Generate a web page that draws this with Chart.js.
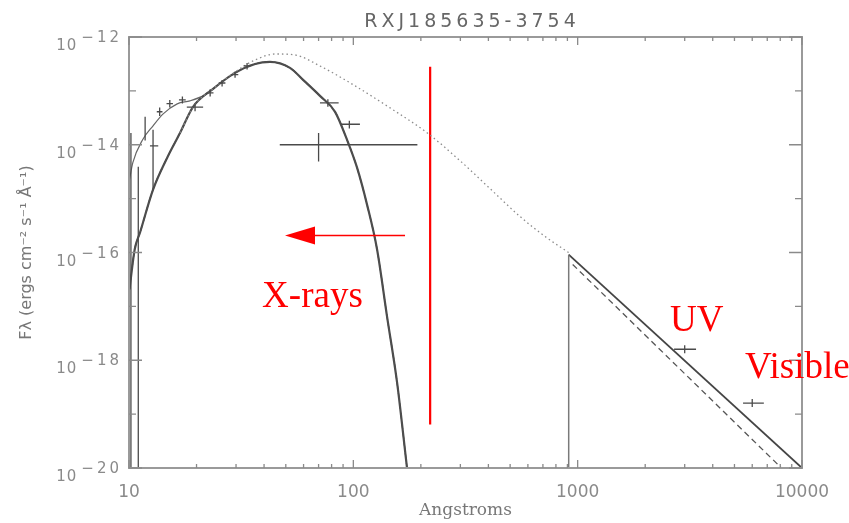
<!DOCTYPE html>
<html>
<head>
<meta charset="utf-8">
<script src="https://cdn.jsdelivr.net/npm/chart.js@4.4.1/dist/chart.umd.min.js"></script>
<style>
  html, body { margin: 0; padding: 0; background: #fff; }
</style>
</head>
<body>
<canvas id="sed" width="849" height="523"></canvas>
<script>
// axes
const xMajorTicks = [10, 100, 1000, 10000];
const xMinorSteps = [2, 3, 4, 5, 6, 7, 8, 9];
const yDecades = [-20, -19, -18, -17, -16, -15, -14, -13, -12];
const yLabelled = [-20, -18, -16, -14, -12];

// unabsorbed blackbody (dotted)
const bbFreeX = [16.9, 19.3, 23.7, 29.7, 36.5, 44.8, 55, 71, 96.7, 145.7, 213, 299, 407, 554, 716, 925];
const bbFreeY = [1.67e-14, 5.06e-14, 1.09e-13, 2.25e-13, 3.75e-13, 4.84e-13, 4.64e-13, 2.9e-13, 1.41e-13, 4.84e-14, 1.67e-14, 5.06e-15, 1.53e-15, 4.64e-16, 1.98e-16, 9.57e-17];

// absorbed blackbody fit (solid + dashed)
const bbFitX = [10.05, 10.6, 11.2, 12.8, 14.8, 16.9, 19.3, 23.7, 29.7, 36.5, 42.5, 52.2, 59.7, 71, 82.9, 93.7, 103.9, 115.1, 127.6, 141.3, 156.6, 173.5];
const bbFitY = [2.07e-17, 1.14e-16, 2.35e-16, 1.47e-15, 5.75e-15, 1.67e-14, 5.06e-14, 1.09e-13, 2.16e-13, 3.16e-13, 3.44e-13, 2.67e-13, 1.6e-13, 8.07e-14, 4.08e-14, 1.24e-14, 3.75e-15, 7.74e-16, 1.14e-16, 6.53e-18, 3.92e-19, 1e-20];

// soft end model (thin)
const softX = [10.05, 10.4, 11.5, 12.8, 14.2, 16.4, 18.7, 21.8, 23.7];
const softY = [2.25e-15, 4.64e-15, 1.24e-14, 2.25e-14, 3.75e-14, 5.74e-14, 6.53e-14, 8.43e-14, 1.09e-13];

// UV / optical tail
const edgeX = [912, 912];
const edgeY = [1e-20, 9.1e-17];
const uvSolidX = [912, 10000];
const uvSolidY = [9.1e-17, 1e-20];
const uvDashX = [950, 8100];
const uvDashY = [6e-17, 1e-20];

// X-ray data points with errors
const xrayX   = [10.2, 11.0, 11.8, 12.8, 13.7, 15.2, 17.3, 19.7, 23.0, 26.0, 29.7, 33.6, 70, 77, 96];
const xrayY   = [4.6e-15, 9.5e-16, 2.6e-14, 9.5e-15, 4.1e-14, 5.8e-14, 6.8e-14, 5.0e-14, 9.2e-14, 1.4e-13, 2.0e-13, 2.9e-13, 1.0e-14, 6.0e-14, 2.4e-14];
const xrayXlo = [10.2, 11.0, 11.8, 12.4, 13.3, 14.7, 16.7, 18.1, 22.2, 25.1, 28.7, 32.4, 47, 71, 88];
const xrayXhi = [10.2, 11.0, 11.8, 13.5, 14.1, 15.7, 17.9, 21.4, 23.8, 26.9, 30.7, 34.8, 193, 86, 107];
const xrayYlo = [1e-20, 1e-20, 1.2e-14, 1.5e-15, 3.4e-14, 4.9e-14, 5.8e-14, 4.2e-14, 7.9e-14, 1.2e-13, 1.75e-13, 2.5e-13, 4.9e-15, 5.1e-14, 2.0e-14];
const xrayYhi = [1.66e-14, 3.9e-15, 3.3e-14, 1.9e-14, 4.9e-14, 6.8e-14, 7.9e-14, 5.9e-14, 1.07e-13, 1.6e-13, 2.3e-13, 3.3e-13, 1.66e-14, 7.0e-14, 2.8e-14];

// UV / optical photometry
const optX   = [3000, 6000];
const optY   = [1.6e-18, 1.6e-19];
const optXlo = [2690, 5460];
const optXhi = [3370, 6760];
const optYlo = [1.35e-18, 1.35e-19];
const optYhi = [1.9e-18, 1.9e-19];

// red annotations
const cutX = [220, 220];
const cutY = [2.8e-13, 6.4e-20];
const arrowX = [170, 49.6];
const arrowY = [2.07e-16, 2.07e-16];
const bandNames = ['X-rays', 'UV', 'Visible'];
const bandX = [39.2, 2580, 5570];
const bandY = [9.57e-18, 3.44e-18, 4.64e-19];

const pts = (xs, ys) => xs.map((x, i) => ({ x: x, y: ys[i] }));
const dec = e => Number('1e' + e);

const xTickValues = [];
xMajorTicks.forEach((m, i) => {
    xTickValues.push(m);
    if (i < xMajorTicks.length - 1) xMinorSteps.forEach(s => xTickValues.push(m * s));
});

function errorBars(ctx, xs, ys, xlo, xhi, ylo, yhi, sx, sy) {
    xs.forEach((x, i) => {
        const px = sx.getPixelForValue(x), py = sy.getPixelForValue(ys[i]);
        ctx.beginPath();
        ctx.moveTo(sx.getPixelForValue(xlo[i]), py);
        ctx.lineTo(sx.getPixelForValue(xhi[i]), py);
        ctx.moveTo(px, sy.getPixelForValue(ylo[i]));
        ctx.lineTo(px, sy.getPixelForValue(yhi[i]));
        ctx.stroke();
    });
}

const decorations = {
    id: 'decorations',
    afterDatasetsDraw(chart) {
        const { ctx, chartArea: a, scales: { x, y } } = chart;
        ctx.save();
        ctx.beginPath();
        ctx.rect(a.left, a.top, a.right - a.left, a.bottom - a.top);
        ctx.clip();
        ctx.strokeStyle = '#4a4a4a';
        ctx.lineWidth = 1.3;
        errorBars(ctx, xrayX, xrayY, xrayXlo, xrayXhi, xrayYlo, xrayYhi, x, y);
        errorBars(ctx, optX, optY, optXlo, optXhi, optYlo, optYhi, x, y);
        ctx.restore();

        // arrow
        ctx.save();
        const x0 = x.getPixelForValue(arrowX[0]), x1 = x.getPixelForValue(arrowX[1]);
        const ay = y.getPixelForValue(arrowY[0]);
        ctx.strokeStyle = '#ff0000';
        ctx.fillStyle = '#ff0000';
        ctx.lineWidth = 1.6;
        ctx.beginPath();
        ctx.moveTo(x0, ay);
        ctx.lineTo(x1 + 28, ay);
        ctx.stroke();
        ctx.beginPath();
        ctx.moveTo(x1, ay);
        ctx.lineTo(x1 + 30, ay - 9);
        ctx.lineTo(x1 + 30, ay + 9);
        ctx.closePath();
        ctx.fill();
        ctx.restore();
    },
    afterDraw(chart) {
        const { ctx, chartArea: a, scales: { x, y } } = chart;
        ctx.save();
        // frame
        ctx.strokeStyle = '#9a9a9a';
        ctx.lineWidth = 2;
        ctx.strokeRect(a.left, a.top, a.right - a.left, a.bottom - a.top);

        // inward ticks
        ctx.lineWidth = 1.3;
        ctx.strokeStyle = '#8a8a8a';
        ctx.beginPath();
        xTickValues.forEach(v => {
            const px = x.getPixelForValue(v);
            const len = xMajorTicks.includes(v) ? 8 : 4;
            ctx.moveTo(px, a.bottom); ctx.lineTo(px, a.bottom - len);
            ctx.moveTo(px, a.top); ctx.lineTo(px, a.top + len);
        });
        yDecades.forEach(e => {
            const py = y.getPixelForValue(dec(e));
            const len = yLabelled.includes(e) ? 13 : 7;
            ctx.moveTo(a.left, py); ctx.lineTo(a.left + len, py);
            ctx.moveTo(a.right, py); ctx.lineTo(a.right - len, py);
        });
        ctx.stroke();

        // y tick labels 10^-n
        ctx.fillStyle = '#8a8a8a';
        ctx.textAlign = 'right';
        ctx.textBaseline = 'alphabetic';
        yLabelled.forEach(e => {
            const py = y.getPixelForValue(dec(e));
            const sup = '\u2212' + Math.abs(e);
            ctx.font = '15px "DejaVu Sans"';
            ctx.letterSpacing = '3px';
            const w = ctx.measureText(sup).width;
            ctx.fillText(sup, a.left - 7, py + 5);
            ctx.letterSpacing = '1px';
            ctx.fillText('10', a.left - 11 - w, py + 13);
        });

        // title
        ctx.font = '19px "DejaVu Sans"';
        ctx.letterSpacing = '4px';
        ctx.textAlign = 'center';
        ctx.fillStyle = '#666';
        ctx.fillText('RXJ185635-3754', 472, 27);

        // band labels
        ctx.letterSpacing = '0px';
        ctx.font = '37px "Liberation Serif"';
        ctx.textAlign = 'left';
        ctx.fillStyle = '#ff0000';
        bandNames.forEach((t, i) => {
            ctx.fillText(t, x.getPixelForValue(bandX[i]), y.getPixelForValue(bandY[i]));
        });
        ctx.restore();
    }
};

const ctx = document.getElementById('sed').getContext('2d');
new Chart(ctx, {
    type: 'line',
    data: {
        datasets: [
            { data: pts(bbFreeX, bbFreeY), borderColor: '#8c8c8c', borderWidth: 1.3, borderDash: [1.5, 3], cubicInterpolationMode: 'monotone' },
            { data: pts(bbFitX, bbFitY), borderColor: '#4d4d4d', borderWidth: 2.2, cubicInterpolationMode: 'monotone' },
            { data: pts(bbFitX, bbFitY), borderColor: '#222', borderWidth: 1.2, borderDash: [6, 4], cubicInterpolationMode: 'monotone' },
            { data: pts(softX, softY), borderColor: '#666', borderWidth: 1.2, cubicInterpolationMode: 'monotone' },
            { data: pts(edgeX, edgeY), borderColor: '#7a7a7a', borderWidth: 1.5 },
            { data: pts(uvSolidX, uvSolidY), borderColor: '#444', borderWidth: 1.8 },
            { data: pts(uvDashX, uvDashY), borderColor: '#555', borderWidth: 1.3, borderDash: [6, 4] },
            { data: pts(cutX, cutY), borderColor: '#ff0000', borderWidth: 2.2 }
        ]
    },
    options: {
        responsive: false,
        animation: false,
        events: [],
        layout: { padding: { left: 0, right: 47, top: 37, bottom: 0 } },
        elements: { point: { radius: 0 }, line: { fill: false } },
        plugins: { legend: { display: false }, tooltip: { enabled: false } },
        scales: {
            x: {
                type: 'logarithmic',
                min: 10,
                max: 10000,
                afterBuildTicks: s => { s.ticks = xTickValues.map(v => ({ value: v })); },
                afterFit: s => { s.height = 55; },
                grid: { display: false, drawTicks: false },
                border: { display: false },
                ticks: {
                    autoSkip: false,
                    maxRotation: 0,
                    padding: 14,
                    color: '#8a8a8a',
                    font: { family: 'DejaVu Sans', size: 17 },
                    callback: v => xMajorTicks.includes(v) ? String(v) : ''
                },
                title: {
                    display: true,
                    text: 'Angstroms',
                    color: '#777',
                    font: { family: 'DejaVu Serif', size: 17 },
                    padding: { top: 0, bottom: 2 }
                }
            },
            y: {
                type: 'logarithmic',
                min: 1e-20,
                max: 1e-12,
                afterBuildTicks: s => { s.ticks = yDecades.map(e => ({ value: dec(e) })); },
                afterFit: s => { s.width = 129; },
                grid: { display: false, drawTicks: false },
                border: { display: false },
                ticks: { display: false },
                title: {
                    display: true,
                    text: 'F\u03bb (ergs cm\u207b\u00b2 s\u207b\u00b9 \u00c5\u207b\u00b9)',
                    color: '#777',
                    font: { family: 'DejaVu Sans', size: 16 },
                    padding: { top: 17, bottom: 0 }
                }
            }
        }
    },
    plugins: [decorations]
});
</script>
</body>
</html>
